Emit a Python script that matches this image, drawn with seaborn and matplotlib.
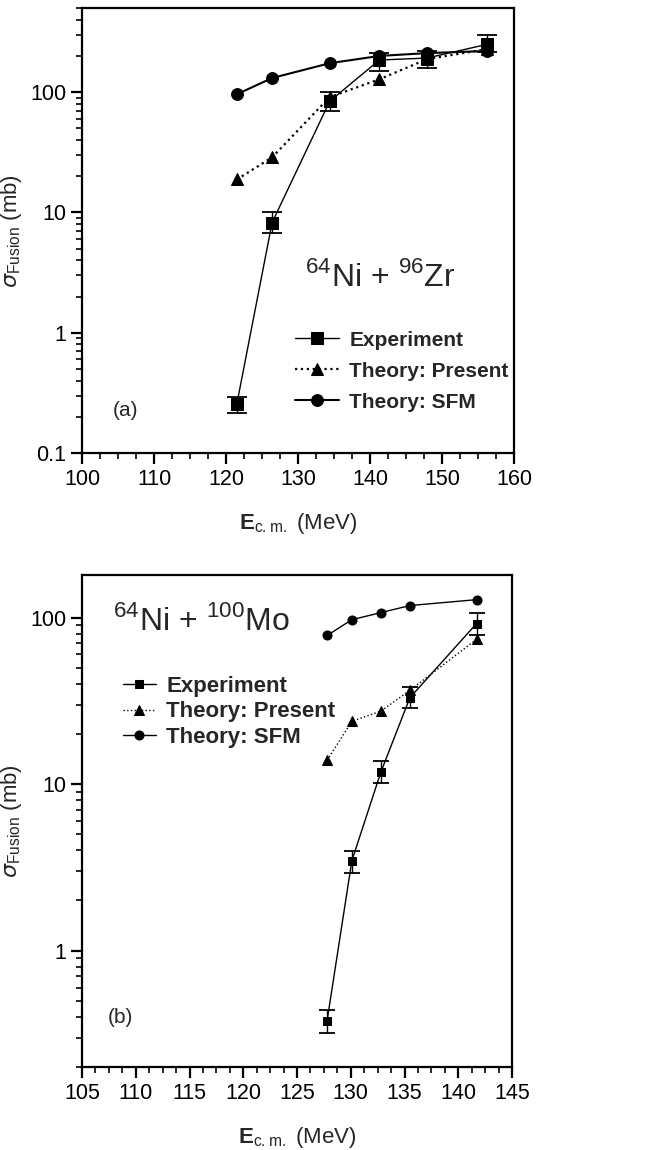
import numpy as np
import pandas as pd
import seaborn as sns
import matplotlib
matplotlib.use("Agg")
import matplotlib.pyplot as plt
from matplotlib.ticker import MultipleLocator, LogLocator, NullFormatter, FixedLocator, FixedFormatter

sns.set_theme(style="ticks")
plt.rcParams['font.family'] = ['Liberation Sans', 'DejaVu Sans']
plt.rcParams['mathtext.fontset'] = 'custom'
plt.rcParams['mathtext.rm'] = 'Liberation Sans'
plt.rcParams['mathtext.bf'] = 'Liberation Sans:bold'

# ---- panel (a): 64Ni + 96Zr ----
a_energy = [121.5, 126.4, 134.4, 141.3, 147.9, 156.3]
a_exp = [0.256, 8.25, 84, 185, 192, 250]
a_exp_lo = [0.215, 6.8, 70, 150, 158, 215]
a_exp_hi = [0.29, 10.0, 100, 210, 220, 300]
a_present = [18.8, 28.7, 91, 128, 188, 228]
a_sfm = [96, 131, 174, 200, 211, 220]

# ---- panel (b): 64Ni + 100Mo ----
b_energy = [127.8, 130.1, 132.8, 135.5, 141.7]
b_exp = [0.38, 3.46, 11.8, 33, 92]
b_exp_lo = [0.32, 2.93, 10.1, 28.5, 78]
b_exp_hi = [0.44, 3.97, 13.8, 38, 106]
b_present = [13.9, 23.8, 27.4, 36.5, 74]
b_sfm = [78, 97, 107, 118, 128]

labels = ["Experiment", "Theory: Present", "Theory: SFM"]

fig = plt.figure(figsize=(6.53, 11.5), dpi=100)
ax1 = fig.add_axes([0.1256, 0.606, 0.6616, 0.387])
ax2 = fig.add_axes([0.1256, 0.0722, 0.6585, 0.4278])


def draw(ax, en, exp, lo, hi, pres, sfm, ms, lw_sfm, lw_pres, lw_exp, cap):
    df = pd.DataFrame({"E": en, "exp": exp, "pres": pres, "sfm": sfm})
    sns.lineplot(data=df, x="E", y="sfm", ax=ax, color="black", lw=lw_sfm,
                 marker="o", markersize=ms, markeredgecolor="black", label=labels[2])
    sns.lineplot(data=df, x="E", y="pres", ax=ax, color="black", lw=lw_pres,
                 linestyle=":", marker="^", markersize=ms + 0.5, markeredgecolor="black",
                 label=labels[1])
    sns.lineplot(data=df, x="E", y="exp", ax=ax, color="black", lw=lw_exp,
                 marker="s", markersize=ms - 0.5, markeredgecolor="black", label=labels[0])
    err = np.array([np.array(exp) - np.array(lo), np.array(hi) - np.array(exp)])
    ax.errorbar(en, exp, yerr=err, fmt="none", ecolor="black", elinewidth=1.0,
                capsize=cap, capthick=1.3)
    ax.set_yscale("log")
    for s in ax.spines.values():
        s.set_linewidth(1.6)
        s.set_color("black")
    ax.tick_params(which="both", direction="out", left=True, bottom=True,
                   top=False, right=False, colors="black", labelsize=15.5)
    ax.tick_params(which="major", length=8, width=1.6)
    ax.tick_params(which="minor", length=4, width=1.2)
    ax.set_xlabel(r"$\mathbf{E}_{\mathrm{c.m.}}$ (MeV)", fontsize=16, labelpad=15)
    ax.set_ylabel(r"$\sigma_{\mathrm{Fusion}}$ (mb)", fontsize=16, labelpad=4)
    h, l = ax.get_legend_handles_labels()
    order = [2, 1, 0]
    return [h[i] for i in order], [l[i] for i in order]


h, l = draw(ax1, a_energy, a_exp, a_exp_lo, a_exp_hi, a_present, a_sfm, 8.5, 1.5, 1.6, 1.0, 7)
ax1.set_xlim(100, 160)
ax1.set_ylim(0.1, 500)
ax1.xaxis.set_major_locator(MultipleLocator(10))
ax1.xaxis.set_minor_locator(MultipleLocator(2.5))
ax1.yaxis.set_major_locator(FixedLocator([0.1, 1, 10, 100]))
ax1.yaxis.set_major_formatter(FixedFormatter(["0.1", "1", "10", "100"]))
ax1.yaxis.set_minor_locator(LogLocator(base=10, subs=np.arange(2, 10)))
ax1.yaxis.set_minor_formatter(NullFormatter())
ax1.legend(h, l, loc="upper left", bbox_to_anchor=(0.474, 0.294), frameon=False,
           prop={"weight": "bold", "size": 15}, handlelength=2.1, numpoints=1,
           handletextpad=0.5, labelspacing=0.58, borderaxespad=0)
ax1.text(0.69, 0.395, r"$^{64}$Ni + $^{96}$Zr", transform=ax1.transAxes,
         fontsize=23, ha="center", va="center")
ax1.text(0.07, 0.095, "(a)", transform=ax1.transAxes, fontsize=15, ha="left", va="center")

h, l = draw(ax2, b_energy, b_exp, b_exp_lo, b_exp_hi, b_present, b_sfm, 6.5, 1.0, 1.0, 1.0, 6)
ax2.set_xlim(105, 145)
ax2.set_ylim(0.2, 180)
ax2.xaxis.set_major_locator(MultipleLocator(5))
ax2.xaxis.set_minor_locator(MultipleLocator(1.25))
ax2.yaxis.set_major_locator(FixedLocator([1, 10, 100]))
ax2.yaxis.set_major_formatter(FixedFormatter(["1", "10", "100"]))
ax2.yaxis.set_minor_locator(LogLocator(base=10, subs=np.arange(2, 10)))
ax2.yaxis.set_minor_formatter(NullFormatter())
ax2.legend(h, l, loc="upper left", bbox_to_anchor=(0.074, 0.813), frameon=False,
           prop={"weight": "bold", "size": 16}, handlelength=1.5, numpoints=1,
           handletextpad=0.45, labelspacing=0.2, borderaxespad=0)
ax2.text(0.277, 0.907, r"$^{64}$Ni + $^{100}$Mo", transform=ax2.transAxes,
         fontsize=23, ha="center", va="center")
ax2.text(0.06, 0.1, "(b)", transform=ax2.transAxes, fontsize=15, ha="left", va="center")

fig.savefig("out.png", dpi=100)
